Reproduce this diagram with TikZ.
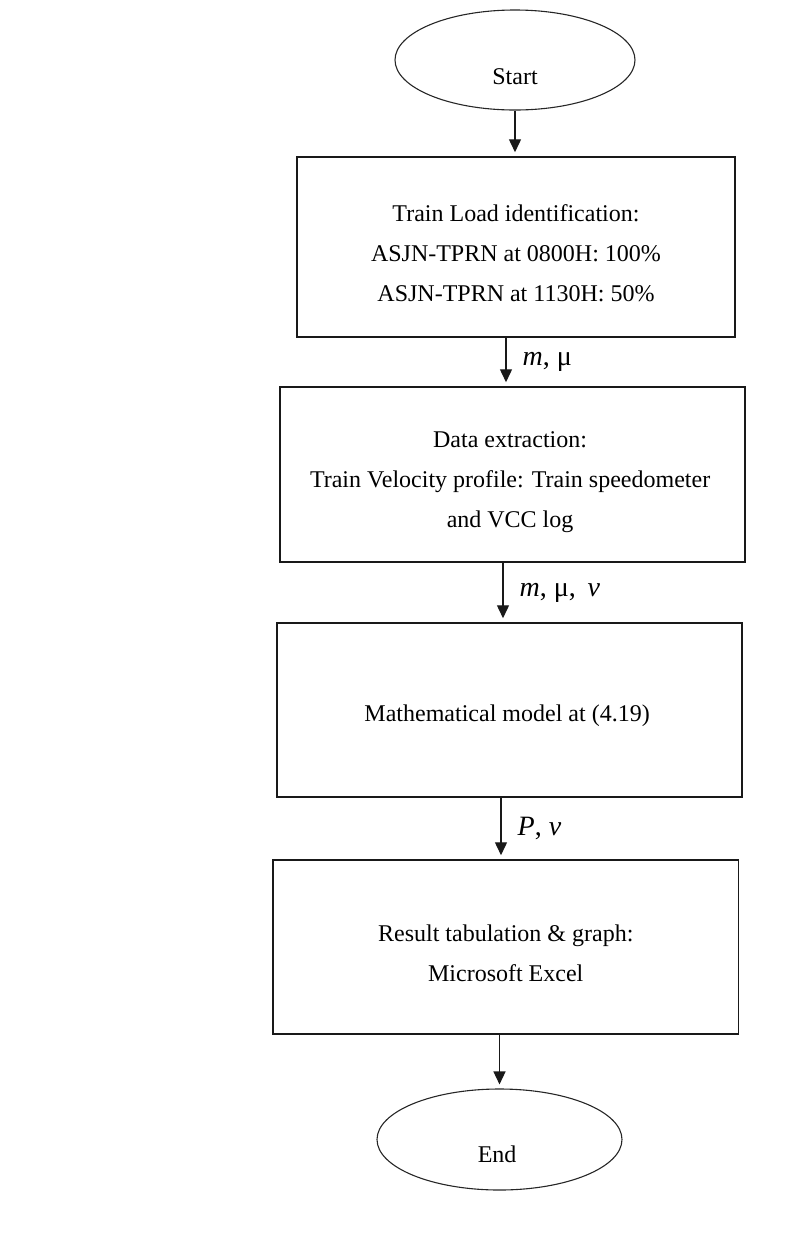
\documentclass[tikz,border=0pt]{standalone}
\usepackage{fontspec}
\setmainfont{Liberation Serif}
\usepackage{tikz}
\usetikzlibrary{arrows.meta,shapes.geometric,positioning}

\begin{document}
\begin{tikzpicture}[
    x=0.5pt, y=-0.5pt,
    font=\fontsize{12}{20}\selectfont,
    term/.style   ={ellipse, draw=black!85, line width=0.55pt, inner sep=0pt},
    stepbox/.style={rectangle, draw=black!90, line width=0.75pt, inner sep=0pt},
    txt/.style    ={align=center, inner sep=0pt},
    arr/.style    ={-{Triangle[length=6.5pt,width=6pt]}, line width=0.7pt,
                    draw=black!90, shorten >=2pt},
    lbl/.style    ={anchor=west, inner sep=0pt, xshift=8pt,
                    font=\fontsize{14}{16}\selectfont},
  ]
  \useasboundingbox (0,0) rectangle (790,1249);
  % terminals and process boxes
  \node[term, minimum width=120pt, minimum height=50pt] (start) at (515,60) {};
  \node[stepbox, minimum width=219pt, minimum height=90pt] (load) at (516,247) {};
  \node[stepbox, minimum width=232.5pt, minimum height=87.5pt] (data) at (512.5,474.5) {};
  \node[stepbox, minimum width=232.5pt, minimum height=87pt] (model) at (509.5,710) {};
  \node[stepbox, minimum width=232.75pt, minimum height=87pt] (result) at (505.75,947) {};
  \node[term, minimum width=122.5pt, minimum height=50.5pt] (end) at (499.5,1139.5) {};
  % texts
  \node[txt] (starttxt) at ([yshift=-8.5pt]start.center) {Start};
  \node[txt] (loadtxt) at ([yshift=-3pt]load.center)
       {Train Load identification:\\ ASJN-TPRN at 0800H: 100\%\\ ASJN-TPRN at 1130H: 50\%};
  \node[txt] (datatxt) at ([yshift=-4pt,xshift=-1.2pt]data.center)
       {Data extraction:\\ Train Velocity profile: Train speedometer\\ and VCC log};
  \node[txt] (modeltxt) at ([yshift=-3pt,xshift=-1.2pt]model.center)
       {Mathematical model at (4.19)};
  \node[txt] (resulttxt) at ([yshift=-3pt]result.center)
       {Result tabulation \& graph:\\ Microsoft Excel};
  \node[txt] (endtxt) at ([yshift=-7.5pt,xshift=-1.2pt]end.center) {End};
  % arrows
  \draw[arr] (start.south) -- (start.south |- load.north);
  \draw[arr] ([xshift=-5pt]load.south) -- ([xshift=-5pt]load.south |- data.north)
       node[lbl, midway] (lab1) {\textit{m}, μ};
  \draw[arr] ([xshift=-4.75pt]data.south) -- ([xshift=-4.75pt]data.south |- model.north)
       node[lbl, midway] (lab2) {\textit{m}, μ,\, \textit{v}};
  \draw[arr] ([xshift=-4.25pt]model.south) -- ([xshift=-4.25pt]model.south |- result.north)
       node[lbl, midway] (lab3) {\textit{P}, \textit{v}};
  \draw[arr] (end.north |- result.south) -- (end.north);
\end{tikzpicture}
\end{document}
